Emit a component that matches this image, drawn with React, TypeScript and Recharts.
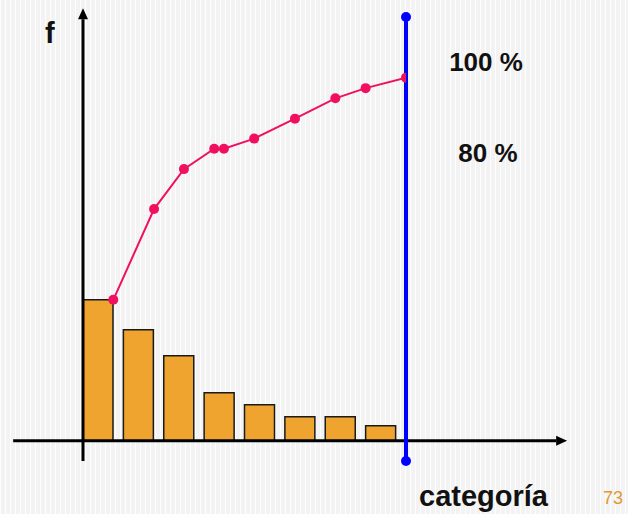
import React from 'react';
import {
  ComposedChart, Bar, Line, XAxis, YAxis, ReferenceLine, ReferenceDot,
} from 'recharts';

// frequencies per category (bars), already sorted
const categories = ['A', 'B', 'C', 'D', 'E', 'F', 'G', 'H'];
const freq = [14.1, 11.1, 8.5, 4.8, 3.6, 2.4, 2.4, 1.5];

// cumulative curve, as drawn (x in category units, y in %)
const cumX = [0.75, 1.76, 2.5, 3.25, 3.49, 4.24, 5.25, 6.25, 7, 8];
const cumPct = [38.8, 63.8, 74.8, 80.4, 80.4, 83.2, 88.7, 94.3, 97.1, 100];

const barData = categories.map((c, i) => ({ cat: c, f: freq[i] }));
const cumData = cumX.map((x, i) => ({ x, pct: cumPct[i] }));

const PCT_DOMAIN = [-5.6, 116.7];
const F_DOMAIN = [-2.03, 42.37];

const ArrowLine = (props: any) => {
  const { x1, y1, x2, y2 } = props;
  const dx = x2 - x1;
  const dy = y2 - y1;
  const len = Math.sqrt(dx * dx + dy * dy);
  const ux = dx / len;
  const uy = dy / len;
  const head = 11;
  const half = 5;
  const bx = x2 - ux * head;
  const by = y2 - uy * head;
  const pts = `${x2},${y2} ${bx - uy * half},${by + ux * half} ${bx + uy * half},${by - ux * half}`;
  return (
    <g>
      <line x1={x1} y1={y1} x2={bx} y2={by} stroke="#000" strokeWidth={3} />
      <polygon points={pts} fill="#000" />
    </g>
  );
};

const App = () => {
  return (
    <div
      style={{
        position: 'absolute', left: 0, top: 0, width: 628, height: 514,
        backgroundColor: '#f3f3f3',
        backgroundImage:
          'repeating-linear-gradient(90deg, rgba(255,255,255,0.9) 0 1px, transparent 1px 5px)',
      }}
    >
      <ComposedChart
        width={628}
        height={514}
        data={barData}
        margin={{ top: 17, right: 222, bottom: 53, left: 78 }}
      >
        <XAxis xAxisId="cat" dataKey="cat" type="category" hide padding={{ left: 0, right: 5 }} />
        <XAxis xAxisId="num" dataKey="x" type="number" hide domain={[0, 8]} allowDataOverflow padding={{ left: 5, right: 0 }} />
        <YAxis yAxisId="f" type="number" hide domain={F_DOMAIN} allowDataOverflow />
        <YAxis yAxisId="pct" type="number" hide domain={PCT_DOMAIN} allowDataOverflow />

        {/* axes with arrows */}
        <ReferenceLine
          xAxisId="num" yAxisId="pct" ifOverflow="visible"
          segment={[{ x: -1.73, y: 0 }, { x: 11.99, y: 0 }]}
          shape={ArrowLine}
        />
        <ReferenceLine
          xAxisId="num" yAxisId="pct" ifOverflow="visible"
          segment={[{ x: 0, y: -5.6 }, { x: 0, y: 119.1 }]}
          shape={ArrowLine}
        />

        <Bar
          xAxisId="cat" yAxisId="f" dataKey="f" barSize={30}
          fill="#EFA430" stroke="#1a1a1a" strokeWidth={1.5}
          isAnimationActive={false}
        />

        <ReferenceLine xAxisId="num" yAxisId="pct" x={8} stroke="#0000FF" strokeWidth={4} ifOverflow="visible" />
        <ReferenceDot xAxisId="num" yAxisId="pct" x={8} y={PCT_DOMAIN[1]} r={5} fill="#0000FF" stroke="none" ifOverflow="visible" />
        <ReferenceDot xAxisId="num" yAxisId="pct" x={8} y={PCT_DOMAIN[0]} r={5} fill="#0000FF" stroke="none" ifOverflow="visible" />

        <Line
          xAxisId="num" yAxisId="pct" data={cumData} dataKey="pct"
          type="linear" stroke="#F0105F" strokeWidth={2}
          dot={{ r: 5, fill: '#F0105F', stroke: 'none' }}
          activeDot={false}
          isAnimationActive={false}
        />
      </ComposedChart>

      <svg
        width={628}
        height={514}
        style={{ position: 'absolute', left: 0, top: 0, pointerEvents: 'none' }}
        fontFamily="'Liberation Sans', Arial, sans-serif"
      >
        <text x={45} y={43} fontSize={29} fontWeight="bold" fill="#111">f</text>
        <text x={486} y={71} fontSize={26} fontWeight="bold" fill="#111" textAnchor="middle">100 %</text>
        <text x={488} y={162} fontSize={26} fontWeight="bold" fill="#111" textAnchor="middle">80 %</text>
        <text x={419} y={506} fontSize={29} fontWeight="bold" fill="#111">categoría</text>
        <text x={603} y={504} fontSize={18} fill="#E09A30">73</text>
      </svg>
    </div>
  );
};

export default App;
